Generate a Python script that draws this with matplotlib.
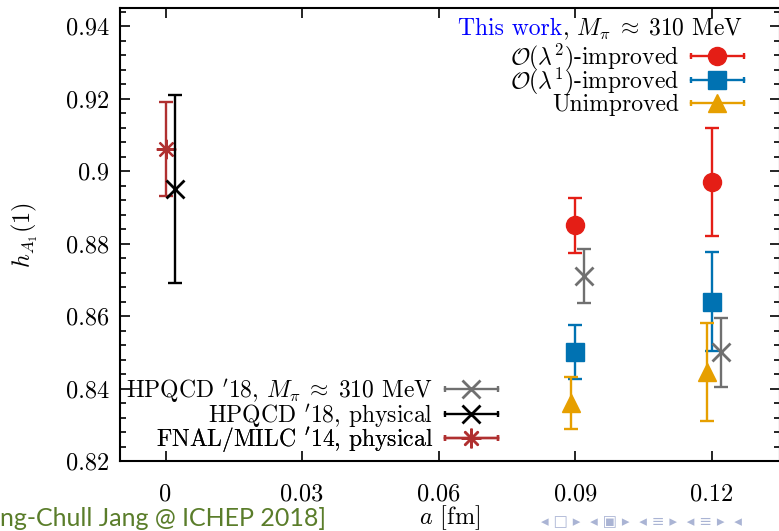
import matplotlib
matplotlib.use("Agg")
import matplotlib.pyplot as plt
from matplotlib.lines import Line2D
from matplotlib.legend_handler import HandlerBase
from matplotlib.ticker import MultipleLocator, FixedLocator, FuncFormatter

plt.rcParams['font.family'] = 'serif'
plt.rcParams['font.serif'] = ['cmr10']
plt.rcParams['mathtext.fontset'] = 'cm'
plt.rcParams['axes.formatter.use_mathtext'] = True

# ---------------- data ----------------
fnal_x = [0.0]
fnal_y = [0.906]
fnal_err = [0.013]

hpqcd_phys_x = [0.002]
hpqcd_phys_y = [0.895]
hpqcd_phys_err = [0.026]

hpqcd_310_x = [0.092, 0.122]
hpqcd_310_y = [0.871, 0.850]
hpqcd_310_err = [0.0075, 0.0095]

lam2_x = [0.090, 0.120]
lam2_y = [0.885, 0.897]
lam2_err = [0.0075, 0.0148]

lam1_x = [0.090, 0.120]
lam1_y = [0.850, 0.864]
lam1_err = [0.0075, 0.0137]

unimp_x = [0.089, 0.119]
unimp_y = [0.836, 0.8445]
unimp_err = [0.0073, 0.0136]

x_ticks = [0, 0.03, 0.06, 0.09, 0.12]
y_ticks = [0.82, 0.84, 0.86, 0.88, 0.90, 0.92, 0.94]

top_labels = [r'$\mathcal{O}(\lambda^2)$-improved', r'$\mathcal{O}(\lambda^1)$-improved',
              'Unimproved']
bottom_labels = [r"HPQCD $'$18, $M_\pi\;\approx\;310$ MeV", r"HPQCD $'$18, physical",
                 r"FNAL/MILC $'$14, physical"]

# ---------------- figure ----------------
W, H = 779, 531
fig = plt.figure(figsize=(W / 100, H / 100), dpi=100)
L, R, T, B = 120, 780, 8, 461
ax = fig.add_axes([L / W, 1 - B / H, (R - L) / W, (B - T) / H])


def ax_x(px):
    return (px - L) / (R - L)


def ax_y(py):
    return (B - py) / (B - T)


C_RED = '#e41e16'
C_BLUE = '#0072b2'
C_ORANGE = '#e69f00'
C_GRAY = '#707070'
C_BLACK = '#000000'
C_DRED = '#b03030'

lw = 1.7
cs = 5
ct = 1.7

ax.errorbar(fnal_x, fnal_y, yerr=fnal_err, fmt='none', ecolor=C_DRED,
            elinewidth=lw, capsize=cs, capthick=ct)
ax.plot(fnal_x, fnal_y, ls='none', marker=(8, 2, 0), ms=14, mew=1.6, color=C_DRED)

ax.errorbar(hpqcd_phys_x, hpqcd_phys_y, yerr=hpqcd_phys_err, fmt='none', ecolor=C_BLACK,
            elinewidth=lw, capsize=cs, capthick=ct)
ax.plot(hpqcd_phys_x, hpqcd_phys_y, ls='none', marker='x', ms=13, mew=2.0, color=C_BLACK)

ax.errorbar(lam2_x, lam2_y, yerr=lam2_err, fmt='none', ecolor=C_RED,
            elinewidth=lw, capsize=cs, capthick=ct)
ax.plot(lam2_x, lam2_y, ls='none', marker='o', ms=13, color=C_RED)

ax.errorbar(lam1_x, lam1_y, yerr=lam1_err, fmt='none', ecolor=C_BLUE,
            elinewidth=lw, capsize=cs, capthick=ct)
ax.plot(lam1_x, lam1_y, ls='none', marker='s', ms=12.5, color=C_BLUE)

ax.errorbar(unimp_x, unimp_y, yerr=unimp_err, fmt='none', ecolor=C_ORANGE,
            elinewidth=lw, capsize=cs, capthick=ct)
ax.plot(unimp_x, unimp_y, ls='none', marker='^', ms=13, color=C_ORANGE)

ax.errorbar(hpqcd_310_x, hpqcd_310_y, yerr=hpqcd_310_err, fmt='none', ecolor=C_GRAY,
            elinewidth=lw, capsize=cs, capthick=ct)
ax.plot(hpqcd_310_x, hpqcd_310_y, ls='none', marker='x', ms=13, mew=2.0, color=C_GRAY)

ax.set_xlim(-0.01, 0.135)
ax.set_ylim(0.82, 0.945)
ax.xaxis.set_major_locator(FixedLocator(x_ticks))
ax.yaxis.set_major_locator(FixedLocator(y_ticks))
ax.yaxis.set_minor_locator(MultipleLocator(0.004))
fmt = FuncFormatter(lambda v, p: '%g' % round(v, 4))
ax.xaxis.set_major_formatter(fmt)
ax.yaxis.set_major_formatter(fmt)
ax.tick_params(which='both', direction='in', top=True, right=True, width=1.2)
ax.tick_params(which='major', length=7, labelsize=17.5)
ax.tick_params(which='minor', length=4)
ax.tick_params(axis='x', pad=16)
ax.tick_params(axis='y', pad=8)
for s in ax.spines.values():
    s.set_linewidth(1.5)

ax.set_xlabel(r'$a$ [fm]', fontsize=17.5)
ax.xaxis.set_label_coords(0.5, ax_y(518))
ax.xaxis.label.set_va('center')
ax.set_ylabel(r'$h_{A_1}(1)$', fontsize=17.5)
ax.yaxis.set_label_coords(ax_x(25), ax_y(235))
ax.yaxis.label.set_va('center')


class HBar(HandlerBase):
    def create_artists(self, legend, orig, xd, yd, w, h, fs, trans):
        y = h / 2 - yd
        x0, x1 = -xd, w - xd
        c = orig.get_color()
        ln = Line2D([x0, x1], [y, y], color=c, lw=lw, transform=trans)
        caps = Line2D([x0, x1], [y, y], ls='none', marker='|', ms=5, mew=lw,
                      color=c, transform=trans)
        mk = Line2D([(x0 + x1) / 2], [y], ls='none', marker=orig.get_marker(),
                    ms=orig.get_markersize(), mew=orig.get_markeredgewidth(),
                    color=c, transform=trans)
        return [ln, caps, mk]


leg_fs = 17


def legend_row(handle, label, right_px, y_px):
    lg = ax.legend([handle], [label], handler_map={Line2D: HBar()}, loc='center right',
                   bbox_to_anchor=(ax_x(right_px), ax_y(y_px)), frameon=False,
                   markerfirst=False, fontsize=leg_fs, handlelength=2.25,
                   handletextpad=0.5, borderpad=0, borderaxespad=0)
    ax.add_artist(lg)
    return lg


top_handles = [Line2D([], [], color=C_RED, marker='o', ms=13),
               Line2D([], [], color=C_BLUE, marker='s', ms=12.5),
               Line2D([], [], color=C_ORANGE, marker='^', ms=13)]
for hnd, lab, yp in zip(top_handles, top_labels, [57, 81, 105]):
    legend_row(hnd, lab, 744, yp)

bottom_handles = [Line2D([], [], color=C_GRAY, marker='x', ms=13, mew=2.0),
                  Line2D([], [], color=C_BLACK, marker='x', ms=13, mew=2.0),
                  Line2D([], [], color=C_DRED, marker=(8, 2, 0), ms=14, mew=1.6)]
for hnd, lab, yp in zip(bottom_handles, bottom_labels, [391, 416, 440]):
    legend_row(hnd, lab, 498, yp)

# title of top legend: "This work" in blue
t_black = ax.text(ax_x(743), ax_y(29), r', $M_\pi\;\approx\;310$ MeV', transform=ax.transAxes,
                  ha='right', va='center', fontsize=leg_fs, color='black')
fig.canvas.draw()
bb = t_black.get_window_extent()
inv = ax.transAxes.inverted()
xl = inv.transform((bb.x0, bb.y0))[0]
ax.text(xl, ax_y(29), 'This work', transform=ax.transAxes, ha='right', va='center',
        fontsize=leg_fs, color='#0000ff')

# slide footer
fig.text(0.0, 1 - 519 / H, 'ng-Chull Jang @ ICHEP 2018]', ha='left', va='center',
         fontsize=18, color='#5a7d2a', family='Lato')
fig.text(0.695, 1 - 522 / H,
         '\u25c2 \u25a1 \u25b8  \u25c2 \u25a3 \u25b8  \u25c2 \u2261 \u25b8  \u25c2 \u2261 \u25b8  \u25c2',
         ha='left', va='center', fontsize=11, color='#aab4d4', family='DejaVu Sans')

fig.savefig('out.png', dpi=100)
